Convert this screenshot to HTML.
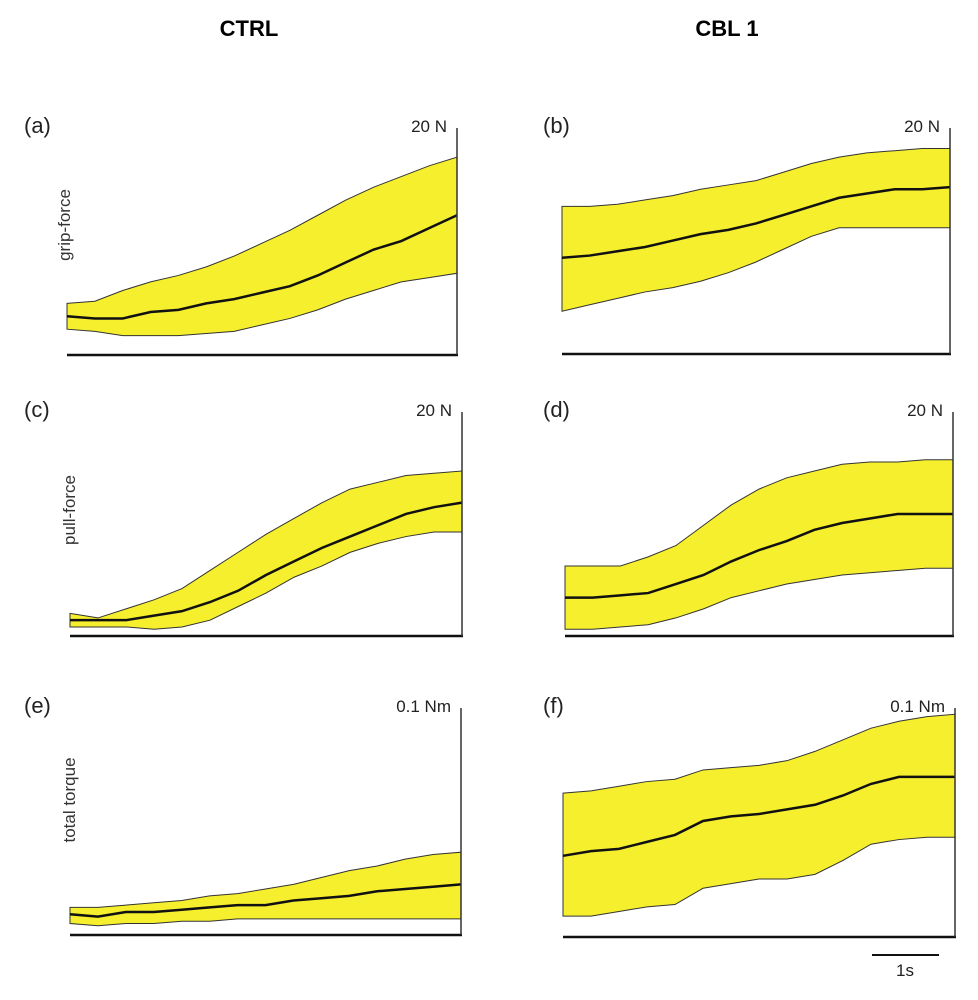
<!DOCTYPE html>
<html><head><meta charset="utf-8"><style>
html,body{margin:0;padding:0;background:#fff;}
svg{display:block;font-family:"Liberation Sans",sans-serif;}
</style></head><body>
<svg id="fig" width="978" height="1000" viewBox="0 0 978 1000">
<text x="249" y="36" font-size="22" font-weight="bold" text-anchor="middle">CTRL</text>
<text x="727" y="36" font-size="22" font-weight="bold" text-anchor="middle">CBL 1</text>
<text transform="translate(70,225) rotate(-90)" font-size="17" fill="#333" text-anchor="middle">grip-force</text>
<text transform="translate(75,510) rotate(-90)" font-size="17" fill="#333" text-anchor="middle">pull-force</text>
<text transform="translate(75,800) rotate(-90)" font-size="17" fill="#333" text-anchor="middle">total torque</text>
<line x1="872" y1="955" x2="939" y2="955" stroke="#111" stroke-width="2"/>
<text x="905" y="976" font-size="17" fill="#222" text-anchor="middle">1s</text>
</svg>
<script>
// values: 0 = baseline, 100 = top of panel scale
const meanA=[18,17,17,20,21,24,26,29,32,37,43,49,53,59,65];
const upA=[24,25,30,34,37,41,46,52,58,65,72,78,83,88,92];
const loA=[12,11,9,9,9,10,11,14,17,21,26,30,34,36,38];
const meanB=[45,46,48,50,53,56,58,61,65,69,73,75,77,77,78];
const upB=[69,69,70,72,74,77,79,81,85,89,92,94,95,96,96];
const loB=[20,23,26,29,31,34,38,43,49,55,59,59,59,59,59];
const meanC=[7,7,7,9,11,15,20,27,33,39,44,49,54,57,59];
const upC=[10,8,12,16,21,29,37,45,52,59,65,68,71,72,73];
const loC=[4,4,4,3,4,7,13,19,26,31,37,41,44,46,46];
const meanD=[17,17,18,19,23,27,33,38,42,47,50,52,54,54,54];
const upD=[31,31,31,35,40,49,58,65,70,73,76,77,77,78,78];
const loD=[3,3,4,5,8,12,17,20,23,25,27,28,29,30,30];
const meanE=[9,8,10,10,11,12,13,13,15,16,17,19,20,21,22];
const upE=[12,12,13,14,15,17,18,20,22,25,28,30,33,35,36];
const loE=[5,4,5,5,6,6,7,7,7,7,7,7,7,7,7];
const meanF=[35,37,38,41,44,50,52,53,55,57,61,66,69,69,69];
const upF=[62,63,65,67,68,72,73,74,76,80,85,90,93,95,96];
const loF=[9,9,11,13,14,21,23,25,25,27,33,40,42,43,43];
const panelLetters=["(a)","(b)","(c)","(d)","(e)","(f)"];
const scaleLabels=["20 N","20 N","20 N","20 N","0.1 Nm","0.1 Nm"];

const NS="http://www.w3.org/2000/svg";
const svg=document.getElementById('fig');
const panels=[
 {x0:67,x1:457,base:355,top:140,axTop:128,m:meanA,u:upA,l:loA},
 {x0:562,x1:950,base:354,top:140,axTop:128,m:meanB,u:upB,l:loB},
 {x0:70,x1:462,base:636,top:410,axTop:412,m:meanC,u:upC,l:loC},
 {x0:565,x1:953,base:636,top:410,axTop:412,m:meanD,u:upD,l:loD},
 {x0:70,x1:461,base:935,top:705,axTop:708,m:meanE,u:upE,l:loE},
 {x0:563,x1:955,base:937,top:705,axTop:708,m:meanF,u:upF,l:loF}
];
const letterKeys=["a","b","c","d","e","f"];
panels.forEach((p,i)=>{
  const n=p.m.length;
  const xs=k=>p.x0+(p.x1-p.x0)*k/(n-1);
  const ys=v=>p.base-(p.base-p.top)*v/100;
  const g=document.createElementNS(NS,'g');
  
  
  svg.appendChild(g);
  let pts=[];
  for(let k=0;k<n;k++) pts.push(xs(k)+','+ys(p.u[k]));
  for(let k=n-1;k>=0;k--) pts.push(xs(k)+','+ys(p.l[k]));
  const band=document.createElementNS(NS,'polygon');
  band.setAttribute('points',pts.join(' '));
  band.setAttribute('fill','#f6ef2e');
  band.setAttribute('stroke','#333');
  band.setAttribute('stroke-width','1');
  
  
  g.appendChild(band);
  let d='';
  for(let k=0;k<n;k++) d+=(k?'L':'M')+xs(k)+' '+ys(p.m[k]);
  const line=document.createElementNS(NS,'path');
  line.setAttribute('d',d);
  line.setAttribute('fill','none');
  line.setAttribute('stroke','#111');
  line.setAttribute('stroke-width','2.5');
  
  
  g.appendChild(line);
  const xa=document.createElementNS(NS,'line');
  xa.setAttribute('x1',p.x0);xa.setAttribute('x2',p.x1+1);
  xa.setAttribute('y1',p.base);xa.setAttribute('y2',p.base);
  xa.setAttribute('stroke','#111');xa.setAttribute('stroke-width','2.5');
  
  
  g.appendChild(xa);
  const ya=document.createElementNS(NS,'line');
  ya.setAttribute('x1',p.x1);ya.setAttribute('x2',p.x1);
  ya.setAttribute('y1',p.axTop);ya.setAttribute('y2',p.base);
  ya.setAttribute('stroke','#333');ya.setAttribute('stroke-width','1.5');
  
  
  g.appendChild(ya);
  const lt=document.createElementNS(NS,'text');
  lt.setAttribute('x',i%2?543:24);lt.setAttribute('y',p.axTop+5);
  lt.setAttribute('font-size','22');lt.setAttribute('fill','#222');
  lt.textContent=panelLetters[i];
  
  
  g.appendChild(lt);
  const st=document.createElementNS(NS,'text');
  st.setAttribute('x',p.x1-10);st.setAttribute('y',p.axTop+4);
  st.setAttribute('font-size','17');st.setAttribute('fill','#222');
  st.setAttribute('text-anchor','end');
  st.textContent=scaleLabels[i];
  
  
  g.appendChild(st);
});
</script>
</body></html>
